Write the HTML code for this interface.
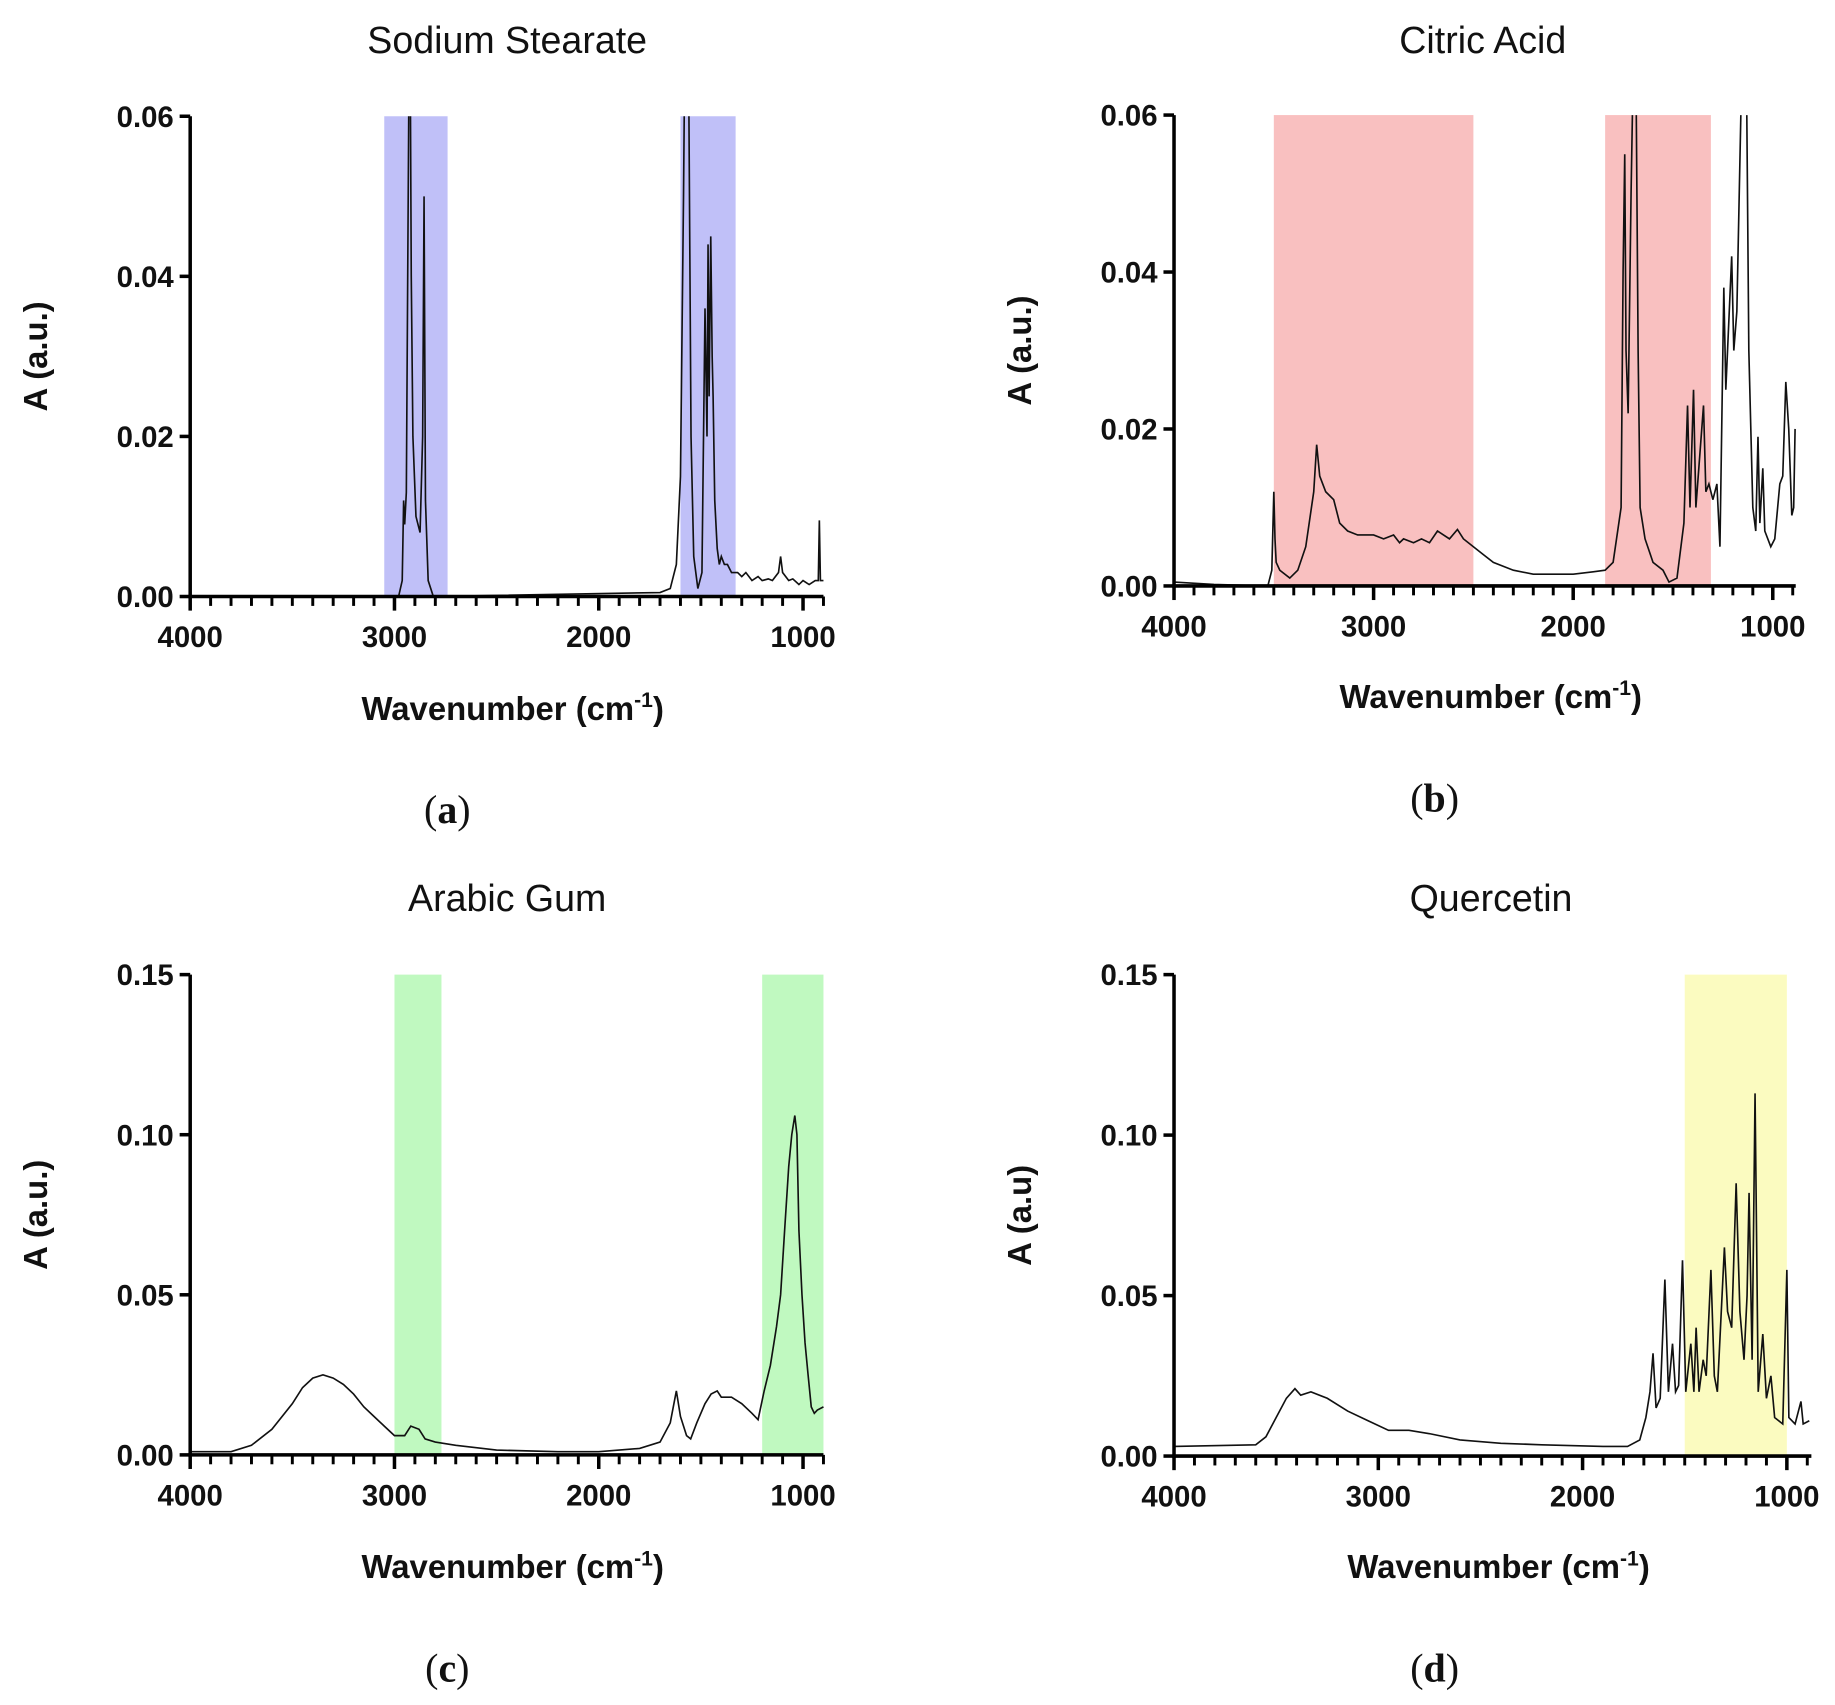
<!DOCTYPE html>
<html><head><meta charset="utf-8">
<style>
html,body{margin:0;padding:0;background:#fff;}
svg{display:block;}
.tick{font-family:"Liberation Sans",sans-serif;font-weight:bold;font-size:25px;fill:#111;}
.title{font-family:"Liberation Sans",sans-serif;font-size:32px;fill:#111;}
.alab{font-family:"Liberation Sans",sans-serif;font-weight:bold;font-size:28px;fill:#111;}
.cap{font-family:"Liberation Serif",serif;font-size:34px;fill:#111;}
</style></head>
<body>
<svg id="fig" width="1835" height="1705" viewBox="0 0 1563 1452" preserveAspectRatio="none"></svg>
<script>
// ---- data ----
const stearateWn = [4000,2980,2962,2955,2950,2942,2925,2918,2910,2895,2875,2862,2855,2848,2835,2810,1700,1650,1620,1600,1585,1575,1560,1548,1535,1515,1495,1480,1470,1465,1460,1452,1445,1440,1432,1420,1410,1400,1385,1370,1350,1320,1300,1280,1250,1220,1200,1170,1150,1120,1110,1100,1070,1050,1020,1000,970,940,925,920,915,900];
const stearateA  = [0,0,0.002,0.012,0.009,0.013,0.08,0.04,0.02,0.01,0.008,0.02,0.05,0.012,0.002,0,0.0005,0.001,0.004,0.015,0.05,0.08,0.065,0.02,0.005,0.001,0.003,0.036,0.02,0.044,0.025,0.045,0.03,0.025,0.012,0.006,0.004,0.005,0.004,0.004,0.003,0.003,0.0025,0.003,0.002,0.0025,0.002,0.0022,0.002,0.003,0.005,0.003,0.002,0.0022,0.0015,0.002,0.0015,0.002,0.002,0.0095,0.002,0.002];
const citricWn = [4000,3800,3530,3510,3500,3494,3488,3470,3420,3380,3340,3300,3285,3270,3240,3200,3170,3130,3080,3000,2950,2900,2870,2850,2800,2760,2720,2680,2650,2620,2580,2550,2500,2450,2400,2300,2200,2100,2000,1900,1840,1800,1760,1750,1742,1735,1725,1710,1700,1685,1675,1665,1640,1600,1550,1520,1480,1445,1427,1415,1397,1385,1347,1335,1320,1300,1280,1265,1245,1235,1206,1195,1180,1160,1147,1132,1120,1100,1085,1074,1065,1050,1040,1010,990,965,950,935,920,905,895,888];
const citricA  = [0.0005,0.0002,0,0.002,0.012,0.006,0.003,0.002,0.001,0.002,0.005,0.012,0.018,0.014,0.012,0.011,0.008,0.007,0.0065,0.0065,0.006,0.0065,0.0055,0.006,0.0055,0.006,0.0055,0.007,0.0065,0.006,0.0072,0.006,0.005,0.004,0.003,0.002,0.0015,0.0015,0.0015,0.0018,0.002,0.003,0.01,0.04,0.055,0.03,0.022,0.05,0.065,0.065,0.03,0.01,0.006,0.003,0.002,0.0005,0.001,0.008,0.023,0.01,0.025,0.01,0.023,0.012,0.013,0.011,0.013,0.005,0.038,0.025,0.042,0.03,0.035,0.06,0.065,0.065,0.03,0.01,0.007,0.019,0.008,0.015,0.007,0.005,0.006,0.013,0.014,0.026,0.02,0.009,0.01,0.02];
const gumWn = [4000,3800,3700,3600,3500,3450,3400,3350,3300,3250,3200,3150,3100,3050,3000,2950,2920,2880,2850,2800,2700,2500,2200,2000,1800,1700,1650,1620,1600,1570,1550,1520,1480,1450,1420,1400,1350,1300,1250,1220,1190,1160,1130,1110,1090,1070,1055,1040,1030,1020,1005,990,975,960,945,930,900];
const gumA  = [0.001,0.001,0.003,0.008,0.016,0.021,0.024,0.025,0.024,0.022,0.019,0.015,0.012,0.009,0.006,0.006,0.009,0.008,0.005,0.004,0.003,0.0015,0.001,0.001,0.002,0.004,0.01,0.02,0.012,0.006,0.005,0.01,0.016,0.019,0.02,0.018,0.018,0.016,0.013,0.011,0.02,0.028,0.04,0.05,0.07,0.09,0.1,0.106,0.1,0.07,0.05,0.035,0.025,0.015,0.013,0.014,0.015];
const querWn = [4000,3600,3550,3500,3450,3408,3380,3330,3250,3150,3050,2950,2850,2750,2600,2400,2200,1900,1780,1720,1690,1670,1655,1640,1620,1597,1580,1560,1545,1530,1511,1495,1470,1455,1444,1430,1410,1395,1372,1355,1340,1306,1290,1270,1248,1230,1210,1195,1185,1170,1156,1140,1118,1100,1078,1060,1020,1000,990,960,931,920,890];
const querA  = [0.003,0.0035,0.006,0.012,0.018,0.021,0.019,0.02,0.018,0.014,0.011,0.008,0.008,0.007,0.005,0.004,0.0035,0.003,0.003,0.005,0.012,0.02,0.032,0.015,0.018,0.055,0.02,0.035,0.02,0.022,0.061,0.02,0.035,0.02,0.04,0.02,0.03,0.025,0.058,0.025,0.02,0.065,0.045,0.04,0.085,0.045,0.03,0.05,0.082,0.03,0.113,0.02,0.038,0.018,0.025,0.012,0.01,0.058,0.012,0.01,0.017,0.01,0.011];
const yTicksSmall = [0,0.02,0.04,0.06];
const yLabelsSmall = ["0.00","0.02","0.04","0.06"];
const yTicksBig = [0,0.05,0.10,0.15];
const yLabelsBig = ["0.00","0.05","0.10","0.15"];
const xTicks = [4000,3000,2000,1000];
const xLabels = ["4000","3000","2000","1000"];

const NS="http://www.w3.org/2000/svg";
const svg=document.getElementById('fig');
function mk(tag,attrs,parent){const e=document.createElementNS(NS,tag);for(const k in attrs)e.setAttribute(k,attrs[k]);(parent||svg).appendChild(e);return e;}

const panels=[
 {id:'a',title:'Sodium Stearate',ox:162,top:99,bot:508,px1000:684,xend:900,ymax:0.06,yt:yTicksSmall,yl:yLabelsSmall,wn:stearateWn,ab:stearateA,bands:[[3050,2740],[1600,1330]],col:'#c0c0f8',ylab:'A (a.u.)',ylx:30,tickY:551,xlabY:613,capX:381,capY:701,tx:432,ty:45},
 {id:'b',title:'Citric Acid',ox:1000,top:98,bot:499,px1000:1510,xend:885,ymax:0.06,yt:yTicksSmall,yl:yLabelsSmall,wn:citricWn,ab:citricA,bands:[[3500,2500],[1840,1310]],col:'#f9c0c0',ylab:'A (a.u.)',ylx:868,tickY:542,xlabY:603,capX:1222,capY:691,tx:1263,ty:45},
 {id:'c',title:'Arabic Gum',ox:162,top:830,bot:1239,px1000:684,xend:900,ymax:0.15,yt:yTicksBig,yl:yLabelsBig,wn:gumWn,ab:gumA,bands:[[3000,2770],[1200,900]],col:'#c0f9c0',ylab:'A (a.u.)',ylx:30,tickY:1282,xlabY:1344,capX:381,capY:1432,tx:432,ty:776},
 {id:'d',title:'Quercetin',ox:1000,top:830,bot:1240,px1000:1522,xend:880,ymax:0.15,yt:yTicksBig,yl:yLabelsBig,wn:querWn,ab:querA,bands:[[1500,1000]],col:'#fbfbc0',ylab:'A (a.u)',ylx:868,tickY:1283,xlabY:1344,capX:1222,capY:1432,tx:1270,ty:776}
];

panels.forEach(p=>{
 const g=mk('g',{});
 
 
 const k=(p.px1000-p.ox)/3000;
 const X=w=>p.ox+(4000-w)*k;
 const Y=v=>p.bot-(v/p.ymax)*(p.bot-p.top);
 const xr=X(p.xend);
 const cp=mk('clipPath',{id:'clip'+p.id},g);
 mk('rect',{x:p.ox,y:p.top,width:xr-p.ox+4,height:p.bot-p.top},cp);
 p.bands.forEach((b,i)=>{
  const r=mk('rect',{x:X(b[0]),y:p.top,width:X(b[1])-X(b[0]),height:p.bot-p.top,fill:p.col},g);
  
  
 });
 let d='';
 p.wn.forEach((w,i)=>{d+=(i?'L':'M')+X(w).toFixed(1)+','+Y(p.ab[i]).toFixed(1);});
 const path=mk('path',{d:d,fill:'none',stroke:'#111','stroke-width':1.4,'clip-path':'url(#clip'+p.id+')'},g);
 
 
 const ya=mk('line',{x1:p.ox,y1:p.top,x2:p.ox,y2:p.bot+1.5,stroke:'#000','stroke-width':3},g);
 
 
 const xa=mk('line',{x1:p.ox-1.5,y1:p.bot,x2:xr,y2:p.bot,stroke:'#000','stroke-width':3},g);
 
 
 for(let w=4000;w>=p.xend;w-=100){
  const major=w%1000===0;
  mk('line',{x1:X(w),y1:p.bot,x2:X(w),y2:p.bot+(major?12:8),stroke:'#000','stroke-width':major?3:2.5},g);
 }
 xTicks.forEach((t,i)=>{
  const tl=mk('text',{x:X(t),y:p.tickY,'text-anchor':'middle',class:'tick'},g);
  tl.textContent=xLabels[i];
  
  
 });
 p.yt.forEach((t,i)=>{
  mk('line',{x1:p.ox-9,y1:Y(t),x2:p.ox,y2:Y(t),stroke:'#000','stroke-width':3},g);
  const tl=mk('text',{x:p.ox-14,y:Y(t)+9,'text-anchor':'end',class:'tick'},g);
  tl.textContent=p.yl[i];
  
  
 });
 const tt=mk('text',{x:p.tx,y:p.ty,'text-anchor':'middle',class:'title'},g);
 tt.textContent=p.title;
 
 
 const yl=mk('text',{x:0,y:0,'text-anchor':'middle',class:'alab',transform:'translate('+(p.ylx+10)+','+((p.top+p.bot)/2)+') rotate(-90)'},g);
 yl.textContent=p.ylab;
 
 
 const xl=mk('text',{x:(p.ox+xr)/2+5,y:p.xlabY,'text-anchor':'middle',class:'alab'},g);
 
 
 const t1=mk('tspan',{},xl);t1.textContent='Wavenumber (cm';
 const t2=mk('tspan',{dy:-11,'font-size':18},xl);t2.textContent='-1';
 const t3=mk('tspan',{dy:11},xl);t3.textContent=')';
 const cap=mk('text',{x:p.capX,y:p.capY,'text-anchor':'middle',class:'cap'},g);
 
 
 const c1=mk('tspan',{},cap);c1.textContent='(';
 const c2=mk('tspan',{'font-weight':'bold'},cap);c2.textContent=p.id;
 const c3=mk('tspan',{},cap);c3.textContent=')';
});
</script>
</body></html>
